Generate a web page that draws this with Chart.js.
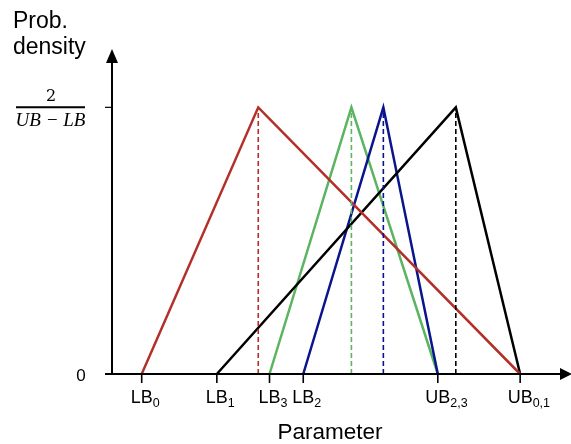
<!DOCTYPE html>
<html>
<head>
<meta charset="utf-8">
<script src="https://cdn.jsdelivr.net/npm/chart.js@4"></script>
<style>
  html, body { margin: 0; padding: 0; background: #fff; }
  #wrap { width: 571px; height: 444px; }
</style>
</head>
<body>
<div id="wrap"><canvas id="myChart"></canvas></div>
<script>
  // triangular distributions 0..3 (parameter units)
  var lowerBounds = [0.66, 2.33, 4.25, 3.5];
  var modes = [3.25, 7.64, 6.03, 5.32];
  var upperBounds = [9.07, 9.07, 7.24, 7.24];
  var peakDensity = 1;

  // x tick labels: main text and subscript
  var tickText = ['LB', 'LB', 'LB', 'LB', 'UB', 'UB'];
  var tickSub = ['0', '1', '3', '2', '2,3', '0,1'];
  var tickValues = [lowerBounds[0], lowerBounds[1], lowerBounds[3], lowerBounds[2], upperBounds[2], upperBounds[0]];

  var colors = ['#b3302a', '#000000', '#0a148c', '#5bb460'];

  var datasets = [];
  for (var i = 0; i < modes.length; i++) {
    datasets.push({
      data: [{x: modes[i], y: 0}, {x: modes[i], y: peakDensity}],
      borderColor: colors[i],
      borderWidth: 1.6,
      borderDash: [5, 3]
    });
  }
  for (var i = 0; i < modes.length; i++) {
    datasets.push({
      data: [{x: lowerBounds[i], y: 0}, {x: modes[i], y: peakDensity}, {x: upperBounds[i], y: 0}],
      borderColor: colors[i],
      borderWidth: 2.5
    });
  }
  datasets.forEach(function (d) {
    d.showLine = true;
    d.pointRadius = 0;
    d.fill = false;
    d.clip = false;
    d.tension = 0;
  });

  var axesPlugin = {
    id: 'axesPlugin',
    afterDraw: function (chart) {
      var ctx = chart.ctx;
      var xs = chart.scales.x, ys = chart.scales.y;
      var x0 = xs.getPixelForValue(0);
      var y0 = ys.getPixelForValue(0);
      var yTop = ys.getPixelForValue(peakDensity);
      ctx.save();
      ctx.strokeStyle = '#000';
      ctx.fillStyle = '#000';
      ctx.lineWidth = 2;
      // x axis
      ctx.beginPath();
      ctx.moveTo(x0 - 7, y0);
      ctx.lineTo(562, y0);
      ctx.stroke();
      ctx.beginPath();
      ctx.moveTo(572, y0);
      ctx.lineTo(560, y0 - 6);
      ctx.lineTo(560, y0 + 6);
      ctx.closePath();
      ctx.fill();
      // y axis
      ctx.beginPath();
      ctx.moveTo(x0, y0);
      ctx.lineTo(x0, 60);
      ctx.stroke();
      ctx.beginPath();
      ctx.moveTo(x0, 49);
      ctx.lineTo(x0 - 6, 63);
      ctx.lineTo(x0 + 6, 63);
      ctx.closePath();
      ctx.fill();
      // y tick
      ctx.lineWidth = 1.2;
      ctx.beginPath();
      ctx.moveTo(x0 - 7, yTop);
      ctx.lineTo(x0, yTop);
      ctx.stroke();

      // x ticks and labels (main text centred on tick, subscript hangs right)
      ctx.lineWidth = 1.6;
      ctx.textBaseline = 'alphabetic';
      for (var i = 0; i < tickValues.length; i++) {
        var px = xs.getPixelForValue(tickValues[i]);
        ctx.beginPath();
        ctx.moveTo(px, y0);
        ctx.lineTo(px, y0 + 9);
        ctx.stroke();
        ctx.font = '18px "Liberation Sans", Arial, sans-serif';
        var w1 = ctx.measureText(tickText[i]).width;
        var start = px - w1 / 2;
        ctx.textAlign = 'left';
        ctx.fillText(tickText[i], start, 403);
        ctx.font = '12.5px "Liberation Sans", Arial, sans-serif';
        ctx.fillText(tickSub[i], start + w1, 407);
      }

      // y labels
      ctx.font = '17px "Liberation Sans", Arial, sans-serif';
      ctx.textAlign = 'center';
      ctx.fillText('0', 81, 381);
      ctx.font = '16px "DejaVu Serif", serif';
      ctx.fillText('2', 51, 101);
      ctx.lineWidth = 2;
      ctx.beginPath();
      ctx.moveTo(16, yTop);
      ctx.lineTo(85, yTop);
      ctx.stroke();
      ctx.font = 'italic 19px "Liberation Serif", serif';
      ctx.fillText('UB \u2212 LB', 50.5, 126);

      // axis titles
      ctx.textAlign = 'left';
      ctx.font = '23px "Liberation Sans", Arial, sans-serif';
      ctx.fillText('Prob.', 13, 28);
      ctx.fillText('density', 13, 54);
      ctx.textAlign = 'center';
      ctx.font = '22.5px "Liberation Sans", Arial, sans-serif';
      ctx.fillText('Parameter', 330, 439);
      ctx.restore();
    }
  };

  var config = {
    type: 'scatter',
    data: { datasets: datasets },
    options: {
      responsive: true,
      maintainAspectRatio: false,
      animation: false,
      layout: { padding: { left: 112, right: 9, top: 54, bottom: 70 } },
      plugins: { legend: { display: false }, tooltip: { enabled: false } },
      scales: {
        x: { type: 'linear', min: 0, max: 10, display: false },
        y: { type: 'linear', min: 0, max: 1.2, display: false }
      }
    },
    plugins: [axesPlugin]
  };
  var myChart = new Chart(document.getElementById('myChart'), config);
</script>
</body>
</html>
